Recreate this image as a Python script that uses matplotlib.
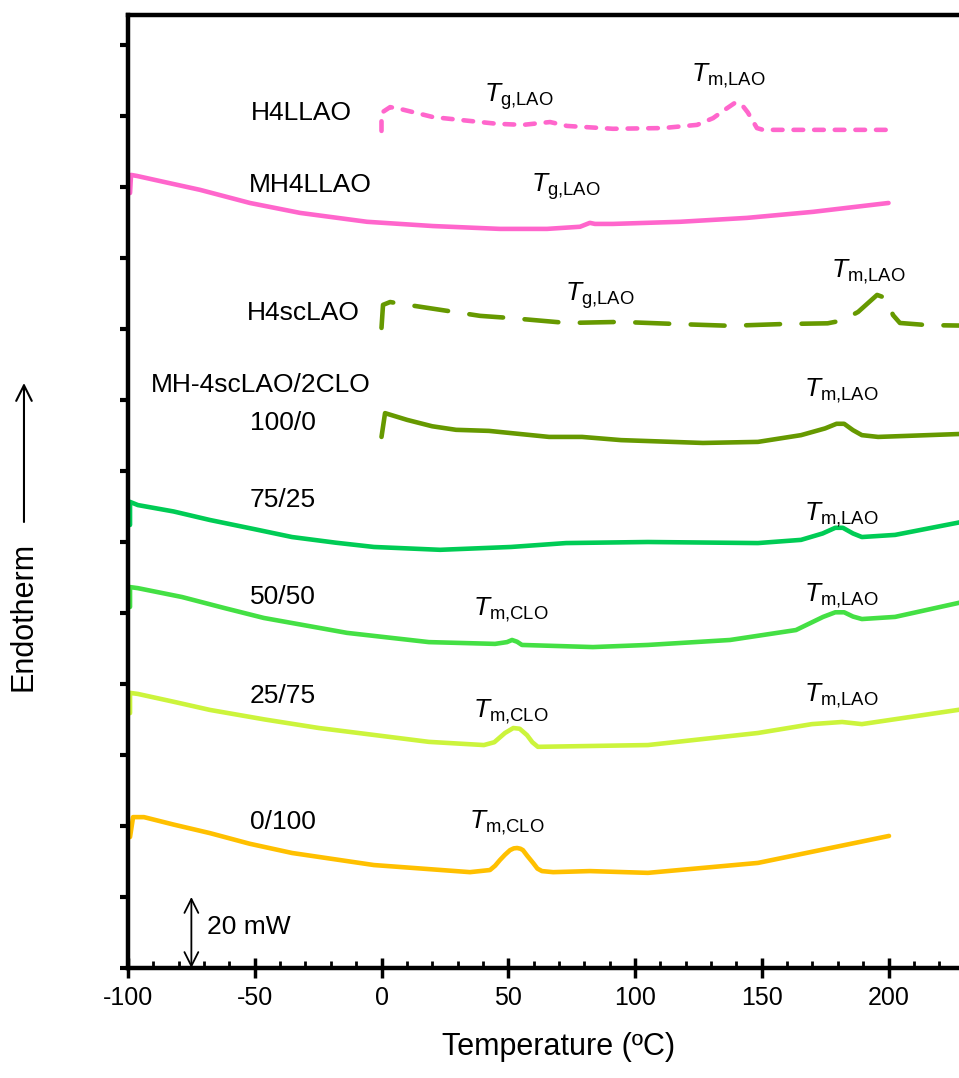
import numpy as np
import matplotlib
matplotlib.use('Agg')
import matplotlib.pyplot as plt
import matplotlib.ticker as tick

plt.rcParams['font.family'] = ['Liberation Sans', 'DejaVu Sans']
plt.rcParams['mathtext.fontset'] = 'custom'
plt.rcParams['mathtext.rm'] = 'Liberation Sans'
plt.rcParams['mathtext.it'] = 'Liberation Sans:italic'
plt.rcParams['axes.unicode_minus'] = False

# DSC traces (temperature in degC, heat flow in mW incl. offset)
h4llao_t = [0, 0, 3.4, 7.3, 20.3, 45.6, 55.8, 66.5, 73.2, 91.3, 111.0, 124.5, 130.8, 135.5, 139.4, 142.0, 144.5, 148.1, 150.5, 200.0]
h4llao_q = [235.8, 240.9, 242.5, 242.0, 239.7, 237.8, 237.5, 238.3, 237.2, 236.4, 236.6, 237.5, 239.4, 241.8, 243.7, 243.3, 241.0, 236.6, 236.1, 236.1]

mh4llao_t = [-99.2, -98.8, -96.4, -85.0, -71.6, -51.9, -32.1, -5.7, 20.3, 46.7, 65.3, 78.3, 82.2, 84.2, 91.3, 117.8, 144.2, 170.2, 200.0]
mh4llao_q = [218.3, 223.4, 223.1, 221.3, 219.2, 215.5, 212.7, 210.2, 209.0, 208.2, 208.2, 208.8, 209.9, 209.6, 209.6, 210.2, 211.3, 213.0, 215.5]

h4sclao_t = [0, 0.6, 3.4, 8.5, 38.9, 50.7, 73.2, 94.1, 116.6, 137.5, 158.4, 176.0, 181.7, 188.0, 195.5, 199.0, 201.8, 204.5, 215.2, 235.0]
h4sclao_q = [180.3, 186.8, 187.6, 187.0, 183.7, 183.1, 181.7, 182.0, 181.4, 180.9, 181.4, 181.6, 182.4, 184.8, 189.6, 188.7, 183.9, 181.7, 181.1, 180.9]

s100_t = [0, 1.4, 10.1, 20.0, 29.4, 42.4, 66.1, 79.1, 94.5, 126.8, 148.5, 165.5, 175.0, 179.5, 182.5, 186.0, 189.5, 195.9, 235.0]
s100_q = [149.6, 156.3, 154.4, 152.6, 151.6, 151.3, 149.6, 149.6, 148.7, 147.9, 148.2, 150.1, 152.0, 153.3, 153.3, 151.5, 150.1, 149.6, 150.6]

s75_t = [-99.2, -99.2, -96.1, -82.0, -67.7, -50.0, -35.3, -18.0, -3.0, 23.1, 51.1, 72.8, 105.1, 148.5, 165.5, 174.0, 179.0, 182.0, 186.0, 189.5, 202.6, 235.0]
s75_q = [124.8, 131.3, 130.4, 128.6, 126.2, 123.6, 121.4, 119.8, 118.6, 117.8, 118.6, 119.7, 120.0, 119.7, 120.6, 122.4, 124.0, 124.0, 122.4, 121.4, 122.0, 126.5]

s50_t = [-99.2, -99.2, -96.1, -78.7, -62.0, -46.4, -13.6, 18.7, 44.8, 49.5, 51.5, 53.5, 55.4, 83.4, 105.1, 137.5, 163.5, 174.2, 179.0, 182.5, 186.0, 189.5, 202.6, 235.0]
s50_q = [101.7, 107.3, 107.0, 104.5, 101.4, 98.6, 94.4, 91.8, 91.3, 91.8, 92.4, 91.9, 91.0, 90.4, 91.0, 92.4, 95.2, 98.9, 100.2, 100.2, 99.0, 98.3, 98.9, 104.0]

s25_t = [-99.2, -99.2, -96.1, -82.0, -67.7, -46.0, -24.7, 18.7, 40.4, 44.5, 48.7, 52.0, 54.5, 57.4, 59.5, 61.7, 105.1, 148.5, 169.8, 181.7, 189.5, 235.0]
s25_q = [71.8, 77.5, 77.2, 75.0, 72.7, 70.0, 67.6, 63.7, 62.8, 63.6, 66.2, 67.6, 67.4, 65.6, 63.6, 62.3, 62.8, 66.2, 68.7, 69.3, 68.7, 73.5]

s0_t = [-99.2, -98.0, -93.7, -82.0, -67.7, -52.0, -35.3, -3.0, 34.9, 42.8, 44.8, 46.7, 48.7, 50.7, 52.2, 53.5, 54.8, 55.8, 57.5, 59.8, 61.5, 63.3, 67.7, 82.2, 105.1, 148.5, 200.2]
s0_q = [36.9, 42.5, 42.5, 40.4, 38.0, 35.0, 32.4, 29.0, 27.0, 27.6, 28.8, 30.4, 31.9, 33.2, 33.7, 33.8, 33.6, 33.2, 31.6, 29.6, 28.0, 27.3, 27.0, 27.3, 26.8, 29.6, 37.2]

PINK = '#FF66CC'
OLIVE = '#669900'

fig = plt.figure(figsize=(9.59, 10.78), dpi=100)
ax = fig.add_axes([128 / 959, 110 / 1078, (990 - 128) / 959, 953 / 1078])

lw = 3.3
common = dict(lw=lw, solid_joinstyle='round', solid_capstyle='round', dash_capstyle='round')
ax.plot(h4llao_t, h4llao_q, color=PINK, dashes=(2.1, 2.4), **common)
ax.plot(mh4llao_t, mh4llao_q, color=PINK, **common)
ax.plot(h4sclao_t, h4sclao_q, color=OLIVE, dashes=(7.4, 4.7), **common)
ax.plot(s100_t, s100_q, color=OLIVE, **common)
ax.plot(s75_t, s75_q, color='#00CC55', **common)
ax.plot(s50_t, s50_q, color='#44E044', **common)
ax.plot(s25_t, s25_q, color='#CCF43C', **common)
ax.plot(s0_t, s0_q, color='#FFC000', **common)

# sample names
fs = 19
for x, y, s in [(-31.8, 240.9, 'H4LLAO'), (-28.2, 220.6, 'MH4LLAO'),
                (-31.0, 184.5, 'H4scLAO'), (-47.5, 164.2, 'MH-4scLAO/2CLO'),
                (-38.9, 153.5, '100/0'), (-38.9, 131.8, '75/25'),
                (-38.9, 104.5, '50/50'), (-38.9, 76.6, '25/75'),
                (-38.9, 41.1, '0/100')]:
    ax.text(x, y, s, fontsize=fs, ha='center', va='center')

tg = r'$\mathit{T}_{\mathrm{g{,}LAO}}$'
tm = r'$\mathit{T}_{\mathrm{m{,}LAO}}$'
tc = r'$\mathit{T}_{\mathrm{m{,}CLO}}$'
for x, y, s in [(54.2, 245.5, tg), (136.7, 251.4, tm), (72.8, 220.1, tg),
                (86.2, 189.4, tg), (191.9, 196.2, tm), (181.3, 162.7, tm),
                (181.3, 127.7, tm), (51.1, 101.0, tc), (181.3, 104.9, tm),
                (51.1, 72.2, tc), (181.3, 76.7, tm), (49.5, 41.0, tc)]:
    ax.text(x, y, s, fontsize=fs, ha='center', va='center')

# scale bar
ax.annotate('', xy=(-75, 20), xytext=(-75, 0),
            arrowprops=dict(arrowstyle='<->', lw=1.3, mutation_scale=25, shrinkA=0, shrinkB=0))
ax.text(-68.8, 11.5, '20 mW', fontsize=fs, ha='left', va='center')

# axes styling
for side in ['left', 'bottom', 'top']:
    ax.spines[side].set_linewidth(3.2)
ax.spines['right'].set_visible(False)
ax.set_xticks(np.arange(-100, 201, 50))
ax.xaxis.set_minor_locator(tick.MultipleLocator(10))
ax.tick_params(axis='x', which='major', direction='inout', length=14, width=2.5,
               labelsize=18, pad=6, top=False)
ax.tick_params(axis='x', which='minor', direction='in', length=5, width=2, top=False)
ax.set_yticks(np.arange(0, 261, 20))
ax.tick_params(axis='y', direction='out', length=6, width=3, labelleft=False)
ax.set_xlim(-100, -100 + (990 - 128) / 2.535)
ax.set_ylim(0, 953 * 20 / 71)
ax.set_xlabel('Temperature (ºC)', fontsize=22, labelpad=16)

fig.text(0.025, 1 - 616 / 1078, 'Endotherm', rotation=90, fontsize=22, ha='center', va='center')
ax.annotate('', xy=(0.025, 1 - 383 / 1078), xytext=(0.025, 1 - 522 / 1078),
            xycoords='figure fraction', textcoords='figure fraction',
            arrowprops=dict(arrowstyle='->', lw=1.5, mutation_scale=28, shrinkA=0, shrinkB=0))

fig.savefig('out.png', dpi=100)
